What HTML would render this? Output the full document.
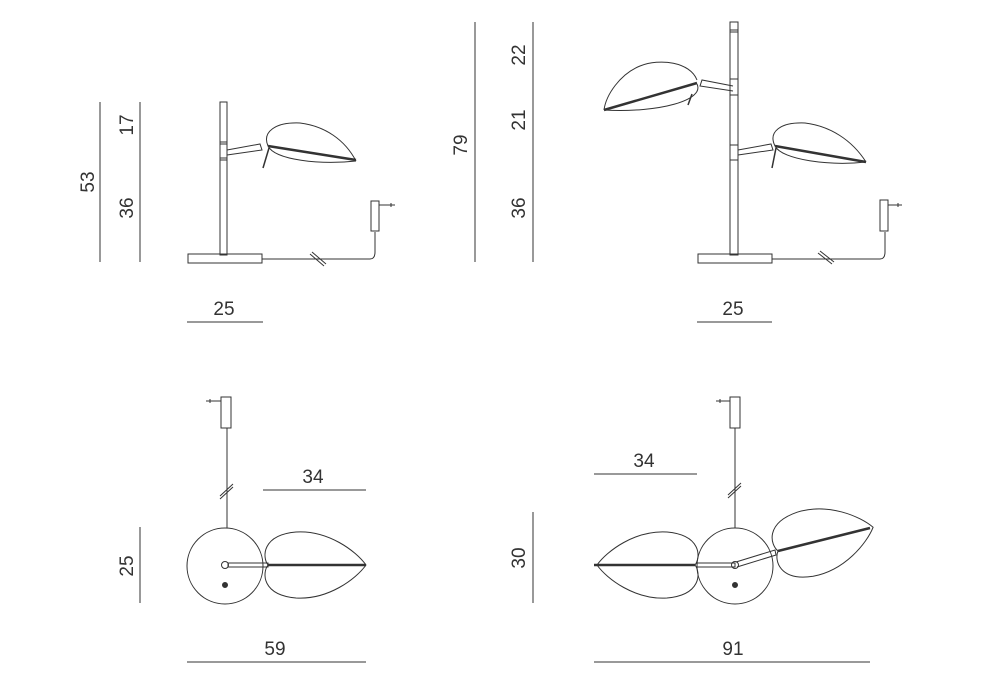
<!DOCTYPE html>
<html><head><meta charset="utf-8"><style>
html,body{margin:0;padding:0;background:#fff;}
svg{display:block;}
text{font-family:"Liberation Sans",sans-serif;font-size:19px;fill:#333;}
</style></head><body>
<svg width="1000" height="700" viewBox="0 0 1000 700" xmlns="http://www.w3.org/2000/svg">
<defs>
<path id="leaf" d="M0,0 C-6,-8 -6,-30 28,-33 C60,-35 88,-14 98,0 C88,14 60,35 28,33 C-6,30 -6,8 0,0 Z"/>
</defs>
<g fill="none" stroke="#333" stroke-width="1">
<!-- dimension lines -->
<line x1="100" y1="102" x2="100" y2="262"/>
<line x1="140" y1="102" x2="140" y2="262"/>
<line x1="187" y1="322" x2="263" y2="322"/>
<line x1="475" y1="22" x2="475" y2="262"/>
<line x1="533" y1="22" x2="533" y2="262"/>
<line x1="697" y1="322" x2="772" y2="322"/>
<line x1="263" y1="490" x2="366" y2="490"/>
<line x1="140" y1="527" x2="140" y2="603"/>
<line x1="187" y1="662" x2="366" y2="662"/>
<line x1="594" y1="474" x2="697" y2="474"/>
<line x1="533" y1="512" x2="533" y2="603"/>
<line x1="594" y1="662" x2="870" y2="662"/>

<!-- Top-left lamp -->
<rect x="220" y="102" width="7" height="153"/>
<line x1="220" y1="142" x2="227" y2="142"/><line x1="220" y1="144" x2="227" y2="144"/>
<line x1="220" y1="158" x2="227" y2="158"/><line x1="220" y1="160" x2="227" y2="160"/>
<rect x="188" y="254" width="74" height="9"/>
<path d="M227,150 L260,144 L262,150 L227,155"/>
<line x1="269" y1="148" x2="263" y2="168" stroke-width="1.5"/>
<path d="M268,146 C262,132 275,122 300,123 C325,126 345,140 356,161"/>
<path d="M268,146 C275,160 320,165 356,161"/>
<line x1="268" y1="146" x2="356" y2="160" stroke-width="2.5"/>
<path d="M262,259 L370,259 Q375,259 375,252 L375,232"/>
<rect x="371" y="201" width="8" height="30"/>
<line x1="379" y1="205" x2="395" y2="205"/><line x1="391" y1="203" x2="391" y2="207"/>
<line x1="310" y1="254" x2="324" y2="266"/><line x1="312" y1="252" x2="326" y2="264"/>

<!-- Top-right lamp -->
<rect x="730" y="22" width="8" height="233"/>
<line x1="730" y1="30" x2="738" y2="30"/><line x1="730" y1="32" x2="738" y2="32"/>
<line x1="730" y1="79" x2="738" y2="79"/><line x1="730" y1="95" x2="738" y2="95"/>
<line x1="730" y1="145" x2="738" y2="145"/><line x1="730" y1="160" x2="738" y2="160"/>
<rect x="698" y="254" width="74" height="9"/>
<path d="M733,86 L702,80 L700,86 L733,91"/>
<line x1="692" y1="94" x2="688" y2="105" stroke-width="1.5"/>
<path d="M697,80 C690,62 660,58 640,66 C620,74 606,95 604,110"/>
<path d="M697,84 C705,100 660,113 604,110"/>
<line x1="697" y1="83" x2="604" y2="110" stroke-width="2.5"/>
<path d="M738,150 L771,144 L773,150 L738,155"/>
<line x1="776" y1="148" x2="772" y2="168" stroke-width="1.5"/>
<path d="M775,146 C768,132 780,122 805,123 C830,126 852,140 866,162"/>
<path d="M775,146 C782,160 830,166 866,162"/>
<line x1="775" y1="146" x2="866" y2="162" stroke-width="2.5"/>
<path d="M772,259 L880,259 Q885,259 885,252 L885,232"/>
<rect x="880" y="200" width="8" height="31"/>
<line x1="888" y1="205" x2="902" y2="205"/><line x1="898" y1="203" x2="898" y2="207"/>
<line x1="818" y1="253" x2="832" y2="264"/><line x1="820" y1="251" x2="834" y2="262"/>

<!-- Bottom-left top view -->
<circle cx="225" cy="566" r="38"/>
<circle cx="225" cy="565" r="3.5"/>
<circle cx="225" cy="585" r="2.5" fill="#333"/>
<rect x="228" y="563" width="40" height="4"/>
<use href="#leaf" x="268" y="565"/>
<line x1="268" y1="565" x2="366" y2="565" stroke-width="2.5"/>
<line x1="227" y1="528" x2="227" y2="428"/>
<rect x="221" y="397" width="10" height="31"/>
<line x1="206" y1="401" x2="221" y2="401"/><line x1="210" y1="399" x2="210" y2="403"/>
<line x1="220" y1="496" x2="233" y2="484"/><line x1="220" y1="499" x2="233" y2="487"/>

<!-- Bottom-right top view -->
<circle cx="735" cy="566" r="38"/>
<circle cx="735" cy="565" r="3.5"/>
<circle cx="735" cy="585" r="2.5" fill="#333"/>
<rect x="697" y="563" width="38" height="4"/>
<use href="#leaf" transform="translate(695,565) scale(-1,1)"/>
<line x1="594" y1="565" x2="695" y2="565" stroke-width="2.5"/>
<path d="M736,562 L775,550 L776,555 L737,567"/>
<use href="#leaf" transform="translate(778,551) rotate(-14)"/>
<line x1="778" y1="551" x2="870" y2="528" stroke-width="2.5"/>
<line x1="735" y1="528" x2="735" y2="428"/>
<rect x="730" y="397" width="10" height="31"/>
<line x1="716" y1="401" x2="730" y2="401"/><line x1="720" y1="399" x2="720" y2="403"/>
<line x1="728" y1="495" x2="741" y2="483"/><line x1="728" y1="498" x2="741" y2="486"/>
</g>

<!-- labels -->
<text x="224" y="315" text-anchor="middle">25</text>
<text x="733" y="315" text-anchor="middle">25</text>
<text x="313" y="483" text-anchor="middle">34</text>
<text x="644" y="467" text-anchor="middle">34</text>
<text x="275" y="655" text-anchor="middle">59</text>
<text x="733" y="655" text-anchor="middle">91</text>
<g text-anchor="middle">
<text transform="translate(94,182) rotate(-90)">53</text>
<text transform="translate(133,125) rotate(-90)">17</text>
<text transform="translate(133,208) rotate(-90)">36</text>
<text transform="translate(467,145) rotate(-90)">79</text>
<text transform="translate(525,55) rotate(-90)">22</text>
<text transform="translate(525,120) rotate(-90)">21</text>
<text transform="translate(525,208) rotate(-90)">36</text>
<text transform="translate(133,566) rotate(-90)">25</text>
<text transform="translate(525,558) rotate(-90)">30</text>
</g>
</svg>
</body></html>
